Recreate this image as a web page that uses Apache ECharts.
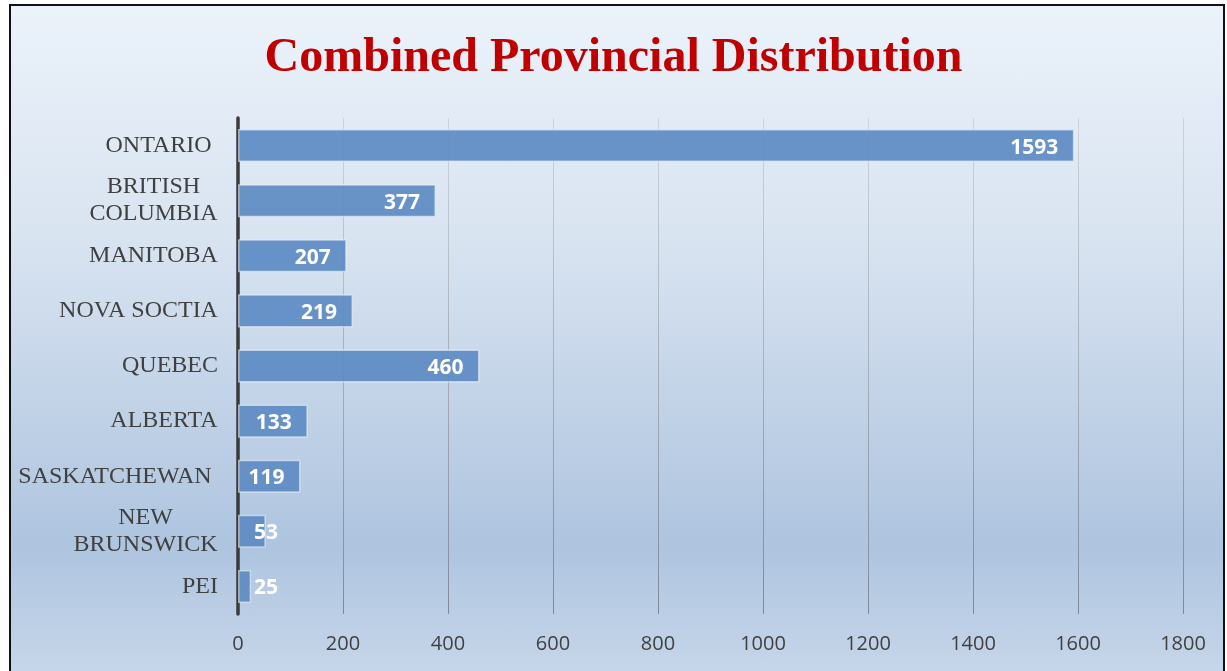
<!DOCTYPE html>
<html>
<head>
<meta charset="utf-8">
<script src="https://cdn.jsdelivr.net/npm/echarts@6/dist/echarts.min.js"></script>
<style>
html,body{margin:0;padding:0;width:1227px;height:671px;overflow:hidden;background:#fff;}
#box{position:absolute;left:9px;top:4px;width:1212px;height:720px;border:2px solid #111;
background:linear-gradient(to bottom,#ebf2fa 0px,#d9e4f1 230px,#aec4df 540px,#c6d6ea 665px);}
#chart{position:absolute;left:0;top:0;width:1227px;height:671px;}
</style>
</head>
<body>
<div id="box"></div>
<div id="chart"></div>
<script>
const title = 'Combined Provincial Distribution';
const categories = ['ONTARIO ', 'BRITISH\nCOLUMBIA', 'MANITOBA', 'NOVA SOCTIA', 'QUEBEC', 'ALBERTA', 'SASKATCHEWAN ', 'NEW\nBRUNSWICK', 'PEI'];
const values = [1593, 377, 207, 219, 460, 133, 119, 53, 25];
const xTicks = [0, 200, 400, 600, 800, 1000, 1200, 1400, 1600, 1800];

const labelFont = '24px "Liberation Serif", "DejaVu Serif", serif';
const cv = document.createElement('canvas').getContext('2d');
cv.font = labelFont;
const rich = {};
categories.forEach((c, i) => {
  const w = Math.max(...c.split('\n').map(l => cv.measureText(l).width));
  rich['c' + i] = {width: Math.ceil(w), align: 'center', fontFamily: '"Liberation Serif", serif', fontSize: 24, color: '#404040', lineHeight: 27};
});

const catData = categories.slice().reverse();
const valData = values.slice().reverse().map(v => {
  const item = {value: v};
  if (v < 80) {
    item.label = {position: 'insideLeft', distance: 16};
  }
  return item;
});

const chart = echarts.init(document.getElementById('chart'), null, {renderer: 'canvas'});
chart.setOption({
  backgroundColor: 'transparent',
  animation: false,
  title: {
    text: title, left: 'center', top: 30,
    textStyle: {fontFamily: '"Liberation Serif", "DejaVu Serif", serif', fontWeight: 'bold', fontSize: 48, color: '#c00000'}
  },
  grid: {left: 238, right: 44, top: 118, bottom: 57, containLabel: false},
  xAxis: {
    type: 'value', min: xTicks[0], max: xTicks[xTicks.length - 1], interval: xTicks[1] - xTicks[0],
    axisLine: {show: false}, axisTick: {show: false},
    axisLabel: {color: '#404040', fontFamily: '"Open Sans", sans-serif', fontSize: 20, margin: 20,
      formatter: function (v) { return String(v); }},
    splitLine: {show: true, lineStyle: {width: 1, color: {type: 'linear', x: 0, y: 118, x2: 0, y2: 614, global: true,
      colorStops: [{offset: 0, color: '#cdd3da'}, {offset: 1, color: '#7f8999'}]}}}
  },
  yAxis: {
    type: 'category', data: catData,
    axisLine: {show: true, lineStyle: {color: '#3a3a3a', width: 3.5}},
    axisTick: {show: false},
    axisLabel: {
      margin: 20,
      formatter: function (val) {
        const i = categories.indexOf(val);
        return val.split('\n').map(l => '{c' + i + '|' + l + '}').join('\n');
      },
      rich: rich
    }
  },
  series: [{
    type: 'bar', data: valData, barCategoryGap: '40%',
    itemStyle: {color: 'rgba(95,140,196,0.93)', borderColor: 'rgba(235,242,250,0.6)', borderWidth: 1.5},
    label: {show: true, position: 'insideRight', distance: 16, color: '#fff', fontFamily: '"Open Sans", sans-serif', fontWeight: 'bold', fontSize: 21, offset: [0, 2]}
  }]
});
</script>
</body>
</html>
